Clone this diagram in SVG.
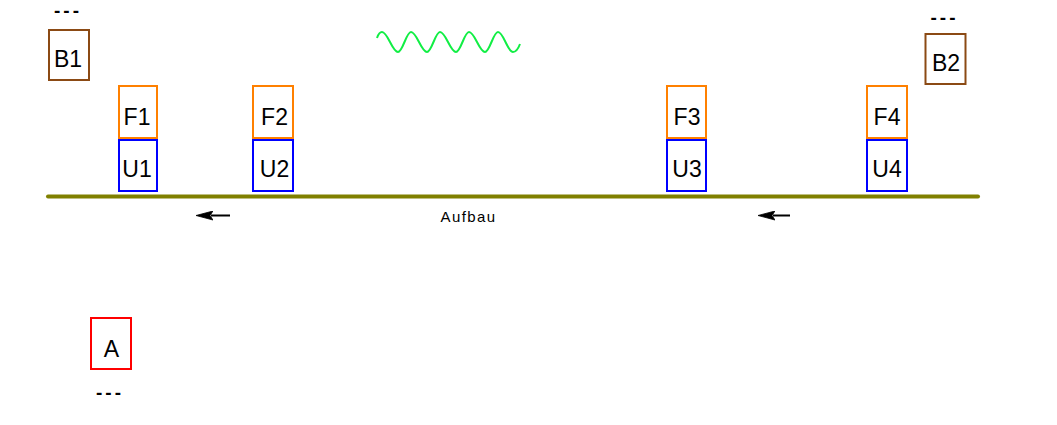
<svg xmlns="http://www.w3.org/2000/svg" width="1057" height="425" viewBox="0 0 1057 425">
  <style>
    .box { fill: #ffffff; stroke-width: 2; }
    .brown { stroke: #8b4a14; }
    .orange { stroke: #ff8000; }
    .blue { stroke: #0000ff; }
    .red { stroke: #ff0000; }
    .lbl { font-family: "Liberation Sans", Arial, sans-serif; font-size: 23px; fill: #000000; text-anchor: middle; }
    .dash { font-family: "Liberation Sans", Arial, sans-serif; font-size: 19px; font-weight: bold; letter-spacing: 3px; fill: #000000; text-anchor: middle; }
    .cap { font-family: "Liberation Sans", Arial, sans-serif; font-size: 15px; letter-spacing: 1.4px; fill: #000000; text-anchor: middle; }
  </style>
  <defs>
    <marker id="arrowhead" markerWidth="17" markerHeight="10" refX="2" refY="5" orient="auto" markerUnits="userSpaceOnUse">
      <path d="M0,0.5 L17,5 L0,9.5 L3,5 Z" fill="#000000" stroke="#000000" stroke-width="0.8" stroke-linejoin="round"/>
    </marker>
  </defs>
  <rect width="1057" height="425" fill="#ffffff"/>

  <!-- base track with direction arrows -->
  <g id="connectors">
    <line x1="48" y1="196.5" x2="978" y2="196.5" stroke="#808000" stroke-width="4" stroke-linecap="round"/>
    <line x1="230" y1="215.5" x2="211" y2="215.5" stroke="#000000" stroke-width="2" marker-end="url(#arrowhead)"/>
    <line x1="790" y1="215.5" x2="773" y2="215.5" stroke="#000000" stroke-width="2" marker-end="url(#arrowhead)"/>
    <text class="cap" x="468.5" y="222">Aufbau</text>
  </g>

  <!-- wave -->
  <g id="wave">
    <path fill="none" stroke="#11ee44" stroke-width="2" stroke-linejoin="round"
      d="M377,38 C378,35 380,32 382,32
         C387.8,32 392.2,52 398,52
         C402.7,52 406.3,32 411,32
         C416.8,32 421.2,52 427,52
         C431.7,52 435.3,32 440,32
         C445.8,32 450.2,52 456,52
         C460.7,52 464.3,32 469,32
         C474.8,32 479.2,52 485,52
         C489.7,52 493.3,32 498,32
         C503.5,32 507.5,52 513,52
         C516,52 518.5,48 520,44"/>
  </g>

  <g id="B1">
    <text class="dash" x="68" y="17">---</text>
    <rect class="box brown" x="49" y="30" width="40" height="50"/>
    <text class="lbl" x="68" y="66.5">B1</text>
  </g>
  <g id="B2">
    <text class="dash" x="944.5" y="24.2">---</text>
    <rect class="box brown" x="925.5" y="34" width="40" height="50"/>
    <text class="lbl" x="946" y="70.5">B2</text>
  </g>

  <g id="F1"><rect class="box orange" x="119" y="86" width="38" height="52"/><text class="lbl" x="137" y="125">F1</text></g>
  <g id="U1"><rect class="box blue" x="119" y="140" width="38" height="51"/><text class="lbl" x="137" y="176.5">U1</text></g>

  <g id="F2"><rect class="box orange" x="253" y="86" width="40" height="52"/><text class="lbl" x="274.5" y="125">F2</text></g>
  <g id="U2"><rect class="box blue" x="253" y="140" width="40" height="51"/><text class="lbl" x="274.5" y="176.5">U2</text></g>

  <g id="F3"><rect class="box orange" x="667" y="86" width="39" height="52"/><text class="lbl" x="687" y="125">F3</text></g>
  <g id="U3"><rect class="box blue" x="667" y="140" width="39" height="51"/><text class="lbl" x="687" y="176.5">U3</text></g>

  <g id="F4"><rect class="box orange" x="867" y="86" width="40" height="52"/><text class="lbl" x="887" y="125">F4</text></g>
  <g id="U4"><rect class="box blue" x="867" y="140" width="40" height="51"/><text class="lbl" x="887" y="176.5">U4</text></g>

  <g id="A">
    <rect class="box red" x="91" y="318" width="40" height="51"/>
    <text class="lbl" x="111.5" y="356.5">A</text>
    <text class="dash" x="110" y="399">---</text>
  </g>
</svg>
